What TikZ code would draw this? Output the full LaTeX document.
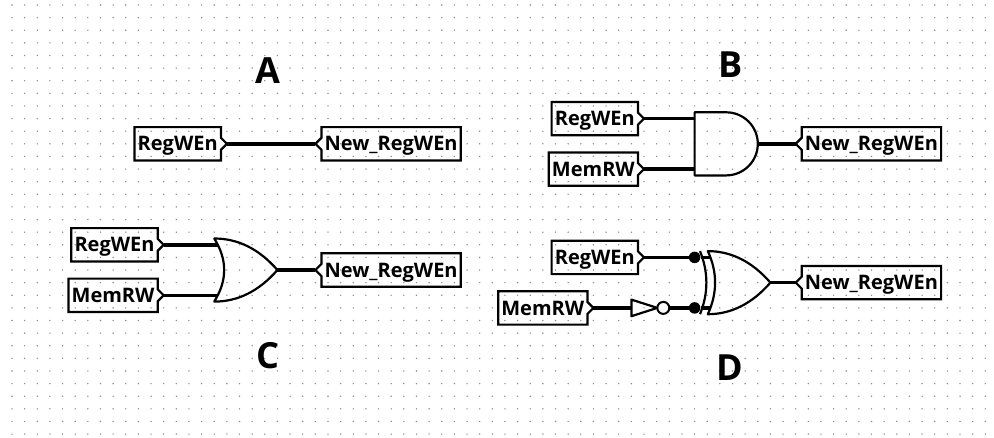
\documentclass[tikz,border=0pt]{standalone}
\usepackage{fontspec}
\newfontfamily\lfont{Open Sans}
\tikzset{
  tun/.style={font=\lfont\bfseries\fontsize{20}{22}\selectfont, text height=14.3pt, text depth=0pt, minimum height=33pt, inner xsep=3pt, inner ysep=0pt},
  wire/.style={line width=3.4pt},
  gate/.style={line width=2.2pt, line join=round},
  outl/.style={line width=2.2pt, line join=miter},
  lbl/.style={font=\lfont\bfseries\fontsize{36}{40}\selectfont, inner sep=0pt},
  jdot/.style={circle, fill=black, inner sep=0pt, minimum size=11.5pt},
  bubble/.style={circle, draw, line width=2pt, inner sep=0pt, minimum size=12pt},
}
\newcommand\tunR[1]{\draw[outl] (#1.north west) -- (#1.north east) -- ([yshift=6pt]#1.east) -- ([xshift=6pt]#1.east) -- ([yshift=-6pt]#1.east) -- (#1.south east) -- (#1.south west) -- cycle; \coordinate (#1-tip) at ([xshift=6pt]#1.east);}
\newcommand\tunL[1]{\draw[outl] (#1.north east) -- (#1.north west) -- ([yshift=6pt]#1.west) -- ([xshift=-6pt]#1.west) -- ([yshift=-6pt]#1.west) -- (#1.south west) -- (#1.south east) -- cycle; \coordinate (#1-tip) at ([xshift=-6pt]#1.west);}
\begin{document}
\begin{tikzpicture}[x=1pt,y=-1pt]
\useasboundingbox (0,0) rectangle (994,437);
\fill[white] (0,0) rectangle (994,437);
% grid
\foreach \i in {0,...,77} \foreach \j in {0,...,34} \fill[black!45] ({12+12.64*\i},{5+12.62*\j}) circle (0.78pt);

% ---------- A ----------
\node[lbl] (labA) at (268,71) {A};
\node[tun, anchor=east] (rA) at (220.9,143.8) {RegWEn};
\node[tun, anchor=west] (nA) at (321.4,143.8) {New\_RegWEn};
\tunR{rA} \tunL{nA}
\draw[wire] (rA-tip) -- (nA-tip);

% ---------- B ----------
\node[lbl] (labB) at (731,65) {B};
\node[tun, anchor=east] (rB) at (638,118.6) {RegWEn};
\node[tun, anchor=east] (mB) at (638,169.1) {MemRW};
\node[tun, anchor=west] (nB) at (801.7,143.8) {New\_RegWEn};
\tunR{rB} \tunR{mB} \tunL{nB}
\draw[gate] (694.6,112.3) -- (726.2,112.3) .. controls (743.65,112.3) and (757.8,126.4) .. (757.8,143.8) .. controls (757.8,161.2) and (743.65,175.4) .. (726.2,175.4) -- (694.6,175.4) -- cycle;
\coordinate (andB-in1) at (694.6,118.6);
\coordinate (andB-in2) at (694.6,169.1);
\coordinate (andB-out) at (757.8,143.8);
\draw[wire] (rB-tip) -- (andB-in1);
\draw[wire] (mB-tip) -- (andB-in2);
\draw[wire] (andB-out) -- (nB-tip);

% ---------- C ----------
\node[lbl] (labC) at (268,356) {C};
\node[tun, anchor=east] (rC) at (157.7,244.8) {RegWEn};
\node[tun, anchor=east] (mC) at (157.7,295.3) {MemRW};
\node[tun, anchor=west] (nC) at (321.4,270) {New\_RegWEn};
\tunR{rC} \tunR{mC} \tunL{nC}
\draw[gate] (214.2,238.5) .. controls (238.1,238.5) and (259.1,249.0) .. (277.4,270) .. controls (259.1,291.0) and (238.1,301.6) .. (214.2,301.6) .. controls (227.5,280.5) and (227.5,259.5) .. (214.2,238.5) -- cycle;
\coordinate (orC-in1) at (217.8,244.8);
\coordinate (orC-in2) at (217.8,295.3);
\coordinate (orC-out) at (277.4,270);
\draw[wire] (rC-tip) -- (orC-in1);
\draw[wire] (mC-tip) -- (orC-in2);
\draw[wire] (orC-out) -- (nC-tip);

% ---------- D ----------
\node[lbl] (labD) at (730,368) {D};
\node[tun, anchor=east] (rD) at (638,257.4) {RegWEn};
\node[tun, anchor=east] (mD) at (587.4,307.9) {MemRW};
\node[tun, anchor=west] (nD) at (801.7,282.6) {New\_RegWEn};
\tunR{rD} \tunR{mD} \tunL{nD}
% NOT gate
\draw[gate] (631.4,299.6) -- (657.3,307.9) -- (631.4,316.2) -- cycle;
\node[bubble] (bub) at (663.3,307.9) {};
\coordinate (notD-in) at (631.4,307.9);
% XOR gate
\draw[gate] (707.8,251.1) .. controls (731.1,251.1) and (752.1,261.6) .. (770.4,282.6) .. controls (752.1,303.7) and (731.1,314.2) .. (707.8,314.2) .. controls (717.5,293.2) and (717.5,272.1) .. (707.8,251.1) -- cycle;
\draw[gate] (700,251.1) .. controls (708.5,272.1) and (708.5,293.2) .. (700,314.2);
\coordinate (xD-in1) at (710.5,257.4);
\coordinate (xD-in2) at (710.5,307.9);
\coordinate (xD-out) at (770.4,282.6);
\node[jdot] (j1) at (694.6,257.4) {};
\node[jdot] (j2) at (694.6,307.9) {};
\draw[wire] (rD-tip) -- (j1) -- (xD-in1);
\draw[wire] (mD-tip) -- (notD-in);
\draw[wire] (bub.east) -- (j2) -- (xD-in2);
\draw[wire] (xD-out) -- (nD-tip);
\end{tikzpicture}
\end{document}
